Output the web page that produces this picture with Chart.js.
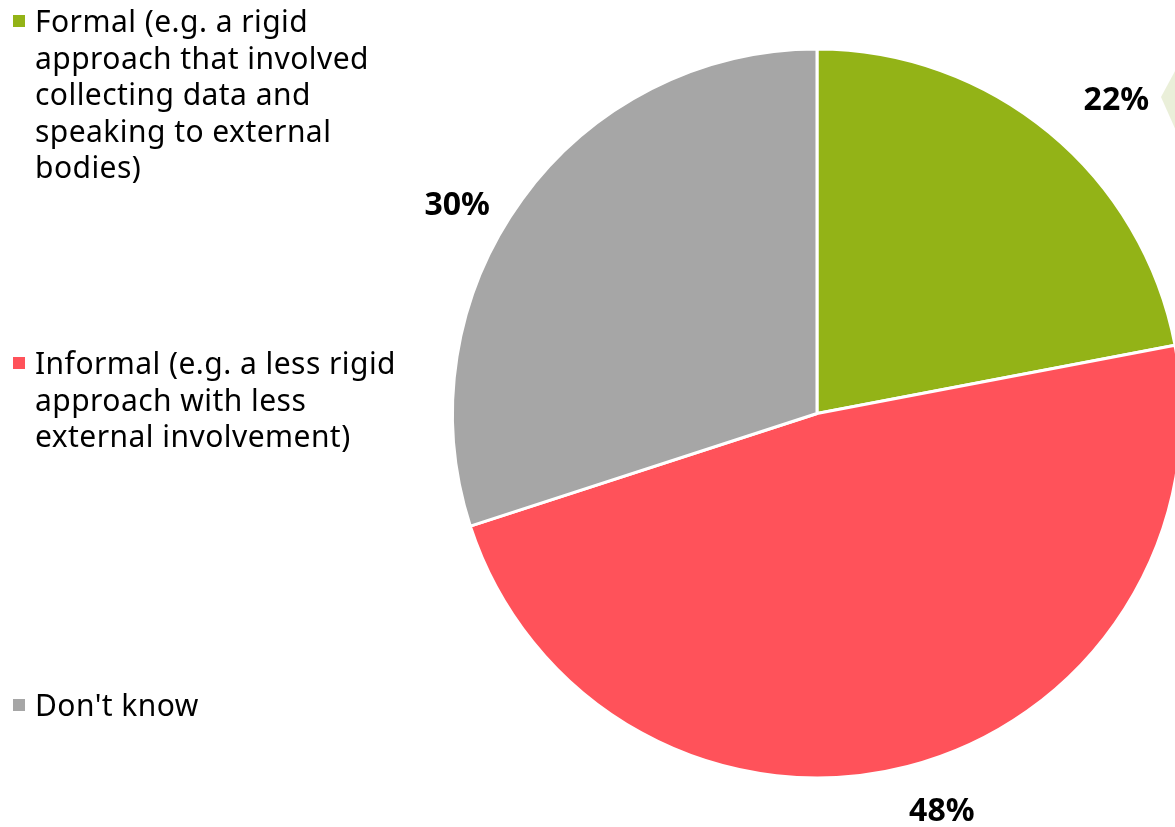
<!DOCTYPE html>
<html>
<head>
<meta charset="utf-8">
<script src="https://cdn.jsdelivr.net/npm/chart.js@4.4.1/dist/chart.umd.min.js"></script>
<style>
  html, body { margin: 0; padding: 0; background: #fff; overflow: hidden; }
  #wrap { position: relative; width: 1175px; height: 827px; overflow: hidden; }
  #pie-box { position: absolute; left: 0; top: 0; width: 1200px; height: 827px; }
  #legend { position: absolute; left: 0; top: 0; font-family: "Noto Sans", sans-serif; font-size: 30px; letter-spacing: 0.45px; line-height: 36.5px; color: #000; }
  .item { position: absolute; left: 35px; white-space: nowrap; }
  .box { position: absolute; left: -22px; top: 12px; width: 12px; height: 12px; }
  #tab { position: absolute; left: 1161px; top: 60px; width: 20px; height: 82px; background: #eaefd9;
         clip-path: polygon(0 45%, 100% 0, 100% 100%); }
</style>
</head>
<body>
<div id="wrap">
  <div id="pie-box"><canvas id="pie"></canvas></div>
  <div id="tab"></div>
  <div id="legend"></div>
</div>
<script>
// 数据
const categories = [
  ['Formal (e.g. a rigid', 'approach that involved', 'collecting data and', 'speaking to external', 'bodies)'],
  ['Informal (e.g. a less rigid', 'approach with less', 'external involvement)'],
  ["Don't know"]
];
const shares = [22, 48, 30];
const colors = ['#93b317', '#ff525a', '#a6a6a6'];

// 图例（HTML，多行）
const legendTops = [3, 345, 687];
const legendEl = document.getElementById('legend');
categories.forEach((lines, i) => {
  const div = document.createElement('div');
  div.className = 'item';
  div.style.top = legendTops[i] + 'px';
  div.innerHTML = '<span class="box" style="background:' + colors[i] + '"></span>' + lines.join('<br>');
  legendEl.appendChild(div);
});

// 外部百分比标签
const labelShift = [{ da: 4.2, dr: 68 }, { da: -3, dr: 53 }, { da: -6, dr: 51 }];
const outsideLabels = {
  id: 'outsideLabels',
  afterDatasetsDraw(chart) {
    const ctx = chart.ctx;
    const meta = chart.getDatasetMeta(0);
    ctx.save();
    ctx.font = 'bold 32px "Noto Sans", sans-serif';
    ctx.fillStyle = '#000';
    ctx.textAlign = 'center';
    ctx.textBaseline = 'middle';
    meta.data.forEach((arc, i) => {
      const p = arc.getProps(['x', 'y', 'startAngle', 'endAngle', 'outerRadius'], true);
      const mid = (p.startAngle + p.endAngle) / 2 + labelShift[i].da * Math.PI / 180;
      const r = p.outerRadius + labelShift[i].dr;
      ctx.fillText(shares[i] + '%', p.x + Math.cos(mid) * r, p.y + Math.sin(mid) * r);
    });
    ctx.restore();
  }
};

new Chart(document.getElementById('pie'), {
  type: 'pie',
  data: {
    labels: categories,
    datasets: [{
      data: shares,
      backgroundColor: colors,
      borderColor: '#fff',
      borderWidth: 3
    }]
  },
  options: {
    responsive: true,
    maintainAspectRatio: false,
    animation: false,
    rotation: 0,
    layout: { padding: { left: 451, right: 17, top: 47, bottom: 47 } },
    plugins: { legend: { display: false }, tooltip: { enabled: false } }
  },
  plugins: [outsideLabels]
});
</script>
</body>
</html>
